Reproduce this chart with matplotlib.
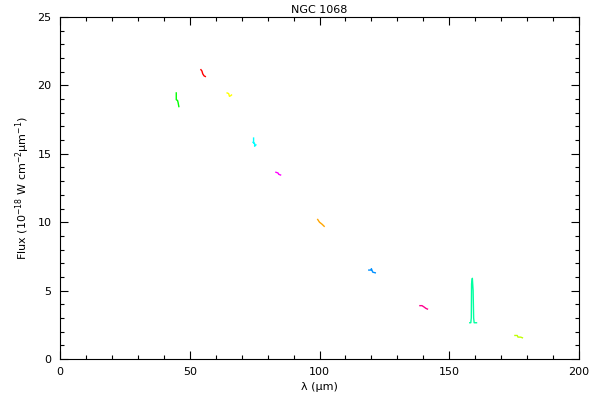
import matplotlib
matplotlib.use('Agg')
import matplotlib.pyplot as plt

# spectral line segments (wavelength in um, flux)
lam_green = [44.8, 44.8, 45.3, 45.5, 45.8]
flux_green = [19.45, 18.95, 18.9, 18.75, 18.45]

lam_red = [54.3, 54.7, 55.0, 55.5, 56.0]
flux_red = [21.15, 21.05, 20.85, 20.7, 20.65]

lam_yellow = [64.4, 65.0, 65.3, 65.8, 66.1]
flux_yellow = [19.45, 19.4, 19.2, 19.25, 19.3]

lam_cyan = [74.6, 74.6, 74.4, 75.0, 75.0, 75.5]
flux_cyan = [16.15, 15.8, 15.85, 15.75, 15.55, 15.65]

lam_magenta = [83.2, 84.0, 84.3, 85.0]
flux_magenta = [13.65, 13.6, 13.5, 13.45]

lam_orange = [99.3, 100.0, 101.0, 101.8]
flux_orange = [10.2, 10.0, 9.85, 9.7]

lam_blue = [119.0, 119.8, 120.0, 120.5, 121.5]
flux_blue = [6.5, 6.5, 6.6, 6.35, 6.3]

lam_pink = [138.7, 139.5, 140.3, 141.0, 141.6]
flux_pink = [3.9, 3.9, 3.8, 3.7, 3.65]

lam_teal = [157.9, 158.3, 158.5, 158.6, 158.9, 159.2, 159.4, 159.6, 160.5]
flux_teal = [2.65, 2.65, 3.0, 5.5, 5.9, 5.0, 3.0, 2.65, 2.65]

lam_lime = [175.3, 176.2, 176.5, 177.5, 178.2]
flux_lime = [1.72, 1.72, 1.6, 1.6, 1.55]

segments = [
    (lam_green, flux_green, '#00ff00'),
    (lam_red, flux_red, '#ff0000'),
    (lam_yellow, flux_yellow, '#ffff00'),
    (lam_cyan, flux_cyan, '#00ffff'),
    (lam_magenta, flux_magenta, '#ff00ff'),
    (lam_orange, flux_orange, '#ffa500'),
    (lam_blue, flux_blue, '#0090ff'),
    (lam_pink, flux_pink, '#ff0090'),
    (lam_teal, flux_teal, '#00ffa0'),
    (lam_lime, flux_lime, '#c0ff00'),
]

plt.rcParams['font.family'] = ['DejaVu Sans']
plt.rcParams['font.size'] = 8

fig = plt.figure(figsize=(6, 4), dpi=100)
ax = fig.add_axes([0.1, 0.1025, 0.865, 0.855])

for lam, flux, col in segments:
    ax.plot(lam, flux, color=col, linewidth=1)

ax.set_xlim(0, 200)
ax.set_ylim(0, 25)
ax.set_xticks([0, 50, 100, 150, 200])
ax.set_yticks([0, 5, 10, 15, 20, 25])
ax.set_xticks(range(0, 201, 10), minor=True)
ax.set_yticks(range(0, 26, 1), minor=True)
ax.tick_params(which='both', direction='in', top=True, right=True, width=0.8)
ax.tick_params(which='major', length=6, pad=6)
ax.tick_params(which='minor', length=3)
for sp in ax.spines.values():
    sp.set_linewidth(0.8)

ax.set_title('NGC 1068', fontsize=8, pad=3)
ax.set_xlabel('λ (μm)', fontsize=8, labelpad=3)
ax.set_ylabel('Flux (10$^{-18}$ W cm$^{-2}$μm$^{-1}$)', fontsize=8, labelpad=4)

fig.savefig('out.png', dpi=100)
